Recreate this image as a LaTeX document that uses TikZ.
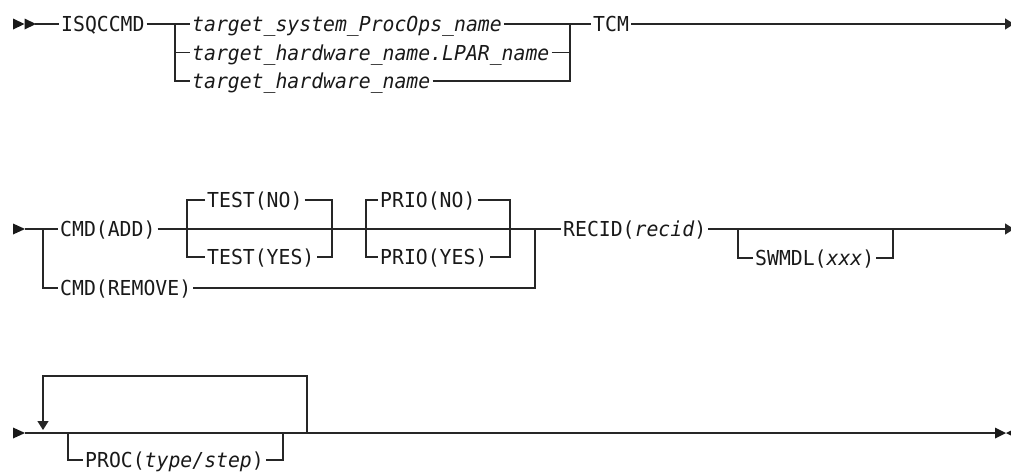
\documentclass[tikz,border=0pt]{standalone}
\usepackage{fontspec}
\setmonofont[FakeStretch=0.96]{DejaVu Sans Mono}
\usetikzlibrary{arrows.meta}
\begin{document}
\begin{tikzpicture}[x=1pt,y=-1pt,
  kw/.style={inner xsep=2pt, inner ysep=0pt, text height=15pt, text depth=0pt,
    anchor=west, text=black!90, font=\ttfamily\fontsize{20.6}{23}\selectfont},
  rail/.style={line width=1.4pt, draw=black!85, line cap=butt},
  tip/.style={-{Triangle[length=9pt,width=11pt]}},
  headfill/.style={fill=black!90},
]
\useasboundingbox (0,0) rectangle (1011,472);

% ---------------- Row 1 ----------------
\fill[headfill] (13,18.5) -- (24.5,24) -- (13,29.5) -- cycle;
\fill[headfill] (24.5,18.5) -- (36,24) -- (24.5,29.5) -- cycle;
\coordinate (s1) at (35,24);
\node[kw] (isq) at (59,24) {ISQCCMD};
\coordinate (a1) at (175,24);
\coordinate (a2) at (175,52.5);
\coordinate (a3) at (175,81);
\node[kw] (o1) at (190,24) {\itshape target\_system\_ProcOps\_name};
\node[kw] (o2) at (190,52.5) {\itshape target\_hardware\_name.LPAR\_name};
\node[kw] (o3) at (190,81) {\itshape target\_hardware\_name};
\coordinate (b1) at (570,24);
\coordinate (b2) at (570,52.5);
\coordinate (b3) at (570,81);
\node[kw] (tcm) at (591,24) {TCM};
\coordinate (e1) at (1014,24);

\draw[rail] (s1) -- (isq.west);
\draw[rail] (isq.east) -- (a1) -- (o1.west);
\draw[rail] (a1) -- (a3) -- (o3.west);
\draw[rail] (a2) -- (o2.west);
\draw[rail] (o1.east) -- (b1);
\draw[rail] (o2.east) -- (b2);
\draw[rail] (o3.east) -- (b3) -- (b1);
\draw[rail] (b1) -- (tcm.west);
\draw[rail,tip] (tcm.east) -- (e1);

% ---------------- Row 2 ----------------
\fill[headfill] (13,223.5) -- (25,229) -- (13,234.5) -- cycle;
\coordinate (s2) at (25,229);
\coordinate (c1) at (43,229);
\coordinate (c2) at (43,288);
\node[kw] (cadd) at (58,229) {CMD(ADD)};
\node[kw] (crem) at (58,288) {CMD(REMOVE)};
\coordinate (t0) at (187,200);
\coordinate (t1) at (187,229);
\coordinate (t2) at (187,257);
\node[kw] (tno) at (205,200) {TEST(NO)};
\node[kw] (tyes) at (205,257) {TEST(YES)};
\coordinate (u0) at (332,200);
\coordinate (u1) at (332,229);
\coordinate (u2) at (332,257);
\coordinate (p0) at (366,200);
\coordinate (p1) at (366,229);
\coordinate (p2) at (366,257);
\node[kw] (pno) at (378,200) {PRIO(NO)};
\node[kw] (pyes) at (378,257) {PRIO(YES)};
\coordinate (q0) at (510,200);
\coordinate (q1) at (510,229);
\coordinate (q2) at (510,257);
\coordinate (r1) at (535,229);
\coordinate (r2) at (535,288);
\node[kw] (rec) at (561,229) {RECID(\textit{recid})};
\coordinate (w1) at (738,229);
\coordinate (w2) at (738,258);
\node[kw] (sw) at (753,258) {SWMDL(\textit{xxx})};
\coordinate (x1) at (893,229);
\coordinate (x2) at (893,258);
\coordinate (e2) at (1014,229);

\draw[rail] (s2) -- (c1) -- (cadd.west);
\draw[rail] (cadd.east) -- (t1) -- (u1) -- (p1) -- (q1) -- (r1) -- (rec.west);
\draw[rail] (tno.west) -- (t0) -- (t2) -- (tyes.west);
\draw[rail] (tno.east) -- (u0) -- (u2) -- (tyes.east);
\draw[rail] (pno.west) -- (p0) -- (p2) -- (pyes.west);
\draw[rail] (pno.east) -- (q0) -- (q2) -- (pyes.east);
\draw[rail] (c1) -- (c2) -- (crem.west);
\draw[rail] (crem.east) -- (r2) -- (r1);
\draw[rail,tip] (rec.east) -- (w1) -- (x1) -- (e2);
\draw[rail] (w1) -- (w2) -- (sw.west);
\draw[rail] (sw.east) -- (x2) -- (x1);

% ---------------- Row 3 ----------------
\fill[headfill] (13,427.5) -- (25,433) -- (13,438.5) -- cycle;
\coordinate (s3) at (25,433);
\coordinate (l0) at (43,376);
\coordinate (la) at (43,430);
\coordinate (l1) at (307,376);
\coordinate (l2) at (307,433);
\coordinate (g1) at (68,433);
\coordinate (g2) at (68,460);
\node[kw] (proc) at (83,460) {PROC(\textit{type/step})};
\coordinate (h1) at (283,433);
\coordinate (h2) at (283,460);
\coordinate (e3) at (995,433);

\draw[rail] (s3) -- (g1) -- (h1) -- (l2) -- (e3);
\draw[rail,tip] (l2) -- (l1) -- (l0) -- (la);
\draw[rail] (g1) -- (g2) -- (proc.west);
\draw[rail] (proc.east) -- (h2) -- (h1);
\fill[headfill] (995,427.5) -- (1006,433) -- (995,438.5) -- cycle;
\fill[headfill] (1017,427.5) -- (1006,433) -- (1017,438.5) -- cycle;
\end{tikzpicture}
\end{document}
